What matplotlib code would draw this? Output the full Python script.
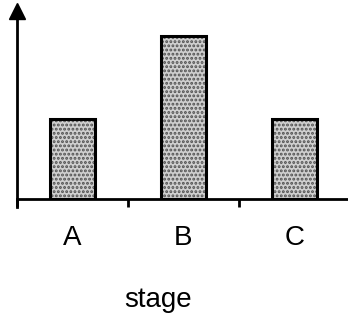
import matplotlib.pyplot as plt

# data
categories = ['A', 'B', 'C']
values = [0.42, 0.853, 0.42]
xlabel = 'stage'

plt.rcParams['font.family'] = ['Liberation Sans', 'DejaVu Sans']
plt.rcParams['hatch.linewidth'] = 1.4
plt.rcParams['hatch.color'] = '#505050'

fig = plt.figure(figsize=(3.48, 3.19), dpi=100)
ax = fig.add_axes([17 / 348, 120 / 319, 333 / 348, 191 / 319])

pos = [i + 0.5 for i in range(len(categories))]
# stippled fill first, then black outline on top
ax.bar(pos, values, width=0.4, color='#cfcfcf', hatch='....', edgecolor='#505050', linewidth=0)
ax.bar(pos, values, width=0.4, fill=False, edgecolor='black', linewidth=2.2)

ax.set_xlim(0, 3)
ax.set_ylim(0, 1)
for s in ['top', 'right']:
    ax.spines[s].set_visible(False)
ax.spines['left'].set_linewidth(2)
ax.spines['bottom'].set_linewidth(2)
ax.spines['left'].set_bounds(-0.04, 1)

# arrow head on y axis
ax.plot([0], [0.985], marker='^', markersize=11, color='black', clip_on=False,
        transform=ax.get_xaxis_transform())

ax.set_yticks([])
ax.set_xticks([0, 1, 2, 3])
ax.set_xticklabels([])
ax.tick_params(axis='x', which='major', direction='out', length=6, width=2)
ax.set_xticks(pos, minor=True)
ax.set_xticklabels(categories, minor=True, fontsize=20)
ax.tick_params(axis='x', which='minor', length=0, pad=19)

fig.text(158 / 348, 19 / 319, xlabel, fontsize=20, ha='center', va='center')

fig.savefig('out.png', dpi=100)
